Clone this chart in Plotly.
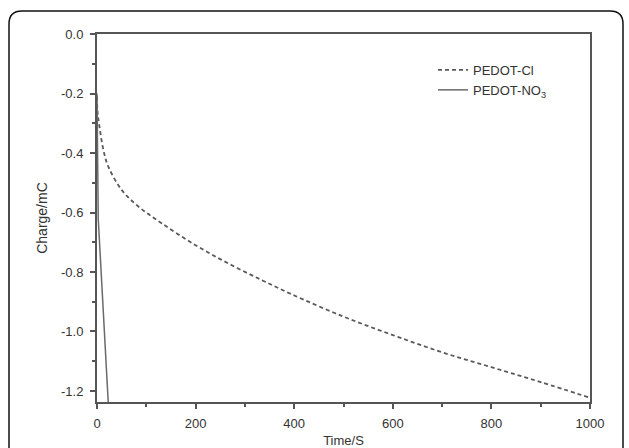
import plotly.graph_objects as go

# PEDOT-Cl (dashed) data
cl_time = [0, 1, 4, 13, 23, 50, 84, 131, 199, 266, 334, 395, 500, 600, 700, 800, 900, 1000]
cl_charge = [-0.21, -0.26, -0.30, -0.39, -0.446, -0.524, -0.58, -0.636, -0.709, -0.771,
             -0.827, -0.875, -0.95, -1.012, -1.07, -1.12, -1.17, -1.223]

# PEDOT-NO3 (solid) data
no3_time = [0, 1, 2.5, 23]
no3_charge = [-0.2, -0.35, -0.62, -1.245]

x_ticks = [0, 200, 400, 600, 800, 1000]
x_ticktext = ["0", "200", "400", "600", "800", "1000"]
y_ticks = [0.0, -0.2, -0.4, -0.6, -0.8, -1.0, -1.2]
y_ticktext = ["0.0", "-0.2", "-0.4", "-0.6", "-0.8", "-1.0", "-1.2"]

W, H = 629, 448
L, R, T, B = 97, 39, 34, 46
pw, ph = W - L - R, H - T - B

FONT = "Liberation Sans, Arial"

fig = go.Figure()
fig.add_trace(go.Scatter(x=cl_time, y=cl_charge, mode="lines", name="PEDOT-Cl",
                         line=dict(color="#5a5a5a", width=1.8, dash="4px,3px", shape="spline")))
fig.add_trace(go.Scatter(x=no3_time, y=no3_charge, mode="lines", name="PEDOT-NO<sub>3</sub>",
                         line=dict(color="#6a6a6a", width=1.5)))

axis_common = dict(showline=True, linecolor="#555555", linewidth=2, mirror=True,
                   ticks="outside", ticklen=5, tickwidth=1.5, tickcolor="#555555",
                   showgrid=False, zeroline=False, automargin=False,
                   tickfont=dict(family=FONT, size=13, color="#333333"))

fig.update_xaxes(range=[0, 1000], tickvals=x_ticks, ticktext=x_ticktext,
                 ticklabelstandoff=3,
                 minor=dict(ticks="outside", ticklen=3, dtick=100, tick0=0, tickcolor="#555555"),
                 title=dict(text="Time/S", standoff=10,
                            font=dict(family=FONT, size=13, color="#333333")),
                 **axis_common)
fig.update_yaxes(range=[-1.237, 0], tickvals=y_ticks, ticktext=y_ticktext,
                 ticklabelstandoff=4,
                 minor=dict(ticks="outside", ticklen=3, dtick=0.1, tick0=0, tickcolor="#555555"),
                 title=dict(text="Charge/mC", standoff=10,
                            font=dict(family=FONT, size=14, color="#333333")),
                 **axis_common)

# outer rounded frame in pixel coords converted to paper coords
def px(xp):
    return (xp - L) / pw

def py(yp):
    return (H - B - yp) / ph

x0, x1, y0, y1, r = 9, 623, 11, 470, 13
path = (f"M {px(x0)},{py(y1)} L {px(x0)},{py(y0 + r)} "
        f"Q {px(x0)},{py(y0)} {px(x0 + r)},{py(y0)} "
        f"L {px(x1 - r)},{py(y0)} "
        f"Q {px(x1)},{py(y0)} {px(x1)},{py(y0 + r)} "
        f"L {px(x1)},{py(y1)}")
fig.add_shape(type="path", path=path, xref="paper", yref="paper",
              line=dict(color="#111111", width=1.5), layer="above")

fig.update_layout(
    width=W, height=H,
    margin=dict(l=L, r=R, t=T, b=B, autoexpand=False),
    paper_bgcolor="white", plot_bgcolor="white",
    font=dict(family=FONT, size=12, color="#333333"),
    legend=dict(x=px(433), y=py(55), xanchor="left", yanchor="top",
                bgcolor="rgba(0,0,0,0)", tracegroupgap=0,
                font=dict(family=FONT, size=13, color="#333333")),
    showlegend=True,
)

fig.write_html("out.html", config={"displayModeBar": False},
               post_script="document.body.style.margin='0';")
